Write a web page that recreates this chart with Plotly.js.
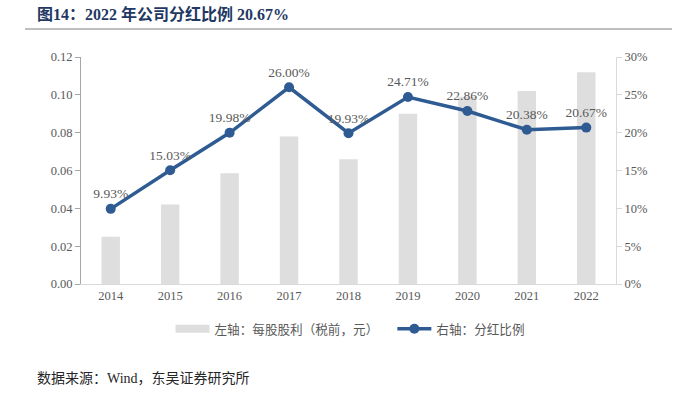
<!DOCTYPE html>
<html><head><meta charset="utf-8">
<script src="https://cdn.plot.ly/plotly-3.0.1.min.js"></script>
<style>body{margin:0;padding:0;background:#fff}#c{width:678px;height:398px}</style>
</head><body><div id="c"></div>
<script>
const years = ['2014','2015','2016','2017','2018','2019','2020','2021','2022'];
const dps = [0.025, 0.042, 0.0585, 0.078, 0.066, 0.090, 0.099, 0.102, 0.112];
const payout = [9.93, 15.03, 19.98, 26.00, 19.93, 24.71, 22.86, 20.38, 20.67];
const barName = '左轴：每股股利（税前，元）';
const lineName = '右轴：分红比例';
const titleText = '图14：2022 年公司分红比例 20.67%';
const sourceText = '数据来源：Wind，东吴证券研究所';

const serif = 'Liberation Serif, Noto Sans CJK SC, serif';
const tickFont = {family: serif, size: 12.5, color: '#595959'};
const barColor = '#DEDEDE';
const lineColor = '#2F5B93';

const traces = [
  {type: 'bar', x: years, y: dps, name: barName, marker: {color: barColor}, width: 0.31, yaxis: 'y', showlegend: false},
  {type: 'scatter', mode: 'lines', x: [null], y: [null], name: barName + '\u3000\u00a0', yaxis: 'y', line: {color: barColor, width: 8}, showlegend: true},
  {type: 'scatter', mode: 'lines+markers+text', x: years, y: payout, name: lineName, yaxis: 'y2',
   line: {color: lineColor, width: 3.5}, marker: {color: lineColor, size: 10},
   text: payout.map(v => v.toFixed(2) + '%'), textposition: 'top center',
   textfont: {family: serif, size: 13.5, color: '#595959'}, cliponaxis: false}
];

const plotW = 678 - 81 - 62;
const plotH = 398 - 57 - 114;

const layout = {
  width: 678, height: 398,
  margin: {l: 81, r: 62, t: 57, b: 114},
  paper_bgcolor: '#fff', plot_bgcolor: '#fff',
  showlegend: true,
  legend: {orientation: 'h', x: (350 - 81) / plotW, xanchor: 'center', y: -(314 - 284) / plotH, yanchor: 'top',
           font: {family: 'Noto Sans CJK SC, serif', size: 12.6, color: '#595959'}, itemwidth: 34, tracegroupgap: 0},
  xaxis: {type: 'category', tickfont: tickFont, showgrid: false, showline: true, linecolor: '#D9D9D9', linewidth: 1,
          ticks: '', zeroline: false, range: [-0.5, 8.5]},
  yaxis: {range: [0, 0.12], dtick: 0.02, tickformat: '.2f', tickfont: tickFont, showgrid: false, showline: true,
          linecolor: '#A6A6A6', ticks: 'outside', ticklen: 5, tickcolor: '#A6A6A6', zeroline: false},
  yaxis2: {range: [0, 30], dtick: 5, ticksuffix: '%', overlaying: 'y', side: 'right', tickfont: tickFont,
           showgrid: false, showline: true, linecolor: '#D9D9D9', ticks: 'outside', ticklen: 5, tickcolor: '#D9D9D9', zeroline: false},
  annotations: [
    {text: '<b>' + titleText + '</b>', xref: 'paper', yref: 'paper', x: (35 - 81) / plotW, y: 1 + (57 - 14) / plotH,
     xanchor: 'left', yanchor: 'middle', showarrow: false, font: {family: serif, size: 16, color: '#1F3864'}},
    {text: sourceText, xref: 'paper', yref: 'paper', x: (35 - 81) / plotW, y: -(378 - 284) / plotH,
     xanchor: 'left', yanchor: 'middle', showarrow: false, font: {family: serif, size: 14, color: '#262626'}}
  ],
  shapes: [
    {type: 'line', xref: 'paper', yref: 'paper', x0: (25 - 81) / plotW, x1: (672 - 81) / plotW,
     y0: 1 + (57 - 29) / plotH, y1: 1 + (57 - 29) / plotH, line: {color: '#7F7F7F', width: 1}}
  ]
};

Plotly.newPlot('c', traces, layout, {staticPlot: true});
</script></body></html>
